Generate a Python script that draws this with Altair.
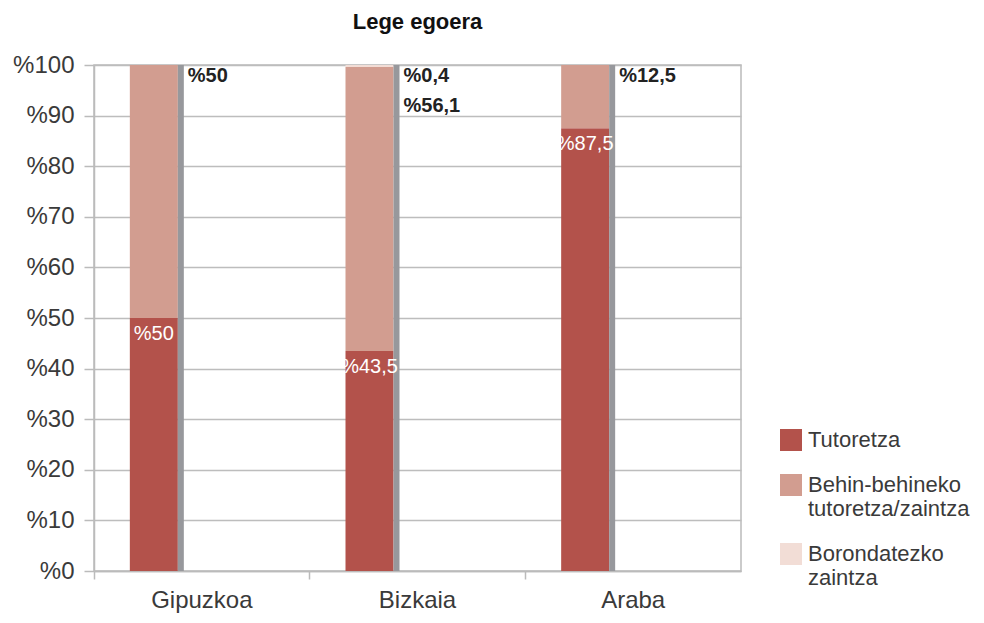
import altair as alt
import pandas as pd

categories = ["Gipuzkoa", "Bizkaia", "Araba"]
series = ["Tutoretza", "Behin-behineko tutoretza/zaintza", "Borondatezko zaintza"]
tutoretza = [50, 43.5, 87.5]
behin = [50, 56.1, 12.5]
borondatezko = [0, 0.4, 0]
colors = ["#B3524B", "#D29D90", "#F2DDD6"]

# outside labels: (category, text, row)
out_labels = [("Gipuzkoa", "%50", 0), ("Bizkaia", "%0,4", 0), ("Bizkaia", "%56,1", 1), ("Araba", "%12,5", 0)]


def fmt(v):
    return "%" + f"{v:g}".replace(".", ",")


rows = []
for i, c in enumerate(categories):
    for j, (s, vals) in enumerate(zip(series, [tutoretza, behin, borondatezko])):
        rows.append({"cat": c, "series": s, "value": vals[i], "order": j})
df = pd.DataFrame(rows)

tot = pd.DataFrame({"cat": categories,
                    "total": [a + b + d for a, b, d in zip(tutoretza, behin, borondatezko)]})
inner = pd.DataFrame({"cat": categories, "v": tutoretza, "txt": [fmt(v) for v in tutoretza]})
outer = pd.DataFrame([{"cat": c, "txt": t, "row": r, "top": 100} for c, t, r in out_labels])

FONT = "Liberation Sans"
TXT = "#3a3a3a"

xenc = alt.X("cat:N", sort=categories, title=None,
             scale=alt.Scale(paddingInner=0, paddingOuter=0),
             axis=alt.Axis(labelAngle=0, labelFontSize=24, labelColor=TXT,
                           labelFont=FONT, labelPadding=9, tickSize=8, tickColor="#BBBBBB",
                           domainColor="#BBBBBB", bandPosition=0, domainWidth=1.5, tickWidth=1.5))

yscale = alt.Scale(domain=[0, 100])

bars = alt.Chart(df).mark_bar(width=48, xOffset=-48).encode(
    x=xenc,
    y=alt.Y("value:Q", stack="zero", scale=yscale, title=None,
            axis=alt.Axis(values=list(range(0, 101, 10)), labelExpr="'%' + datum.value",
                          labelFontSize=24, labelColor=TXT, labelFont=FONT,
                          labelPadding=10, tickSize=10, tickColor="#BBBBBB",
                          domainColor="#BBBBBB", gridColor="#BDBDBD", gridWidth=1.5,
                          domainWidth=1.5, tickWidth=1.5)),
    color=alt.Color("series:N", sort=series,
                    scale=alt.Scale(domain=series, range=colors),
                    legend=alt.Legend(title=None, orient="none", legendX=686, legendY=364,
                                      symbolType="square", symbolSize=484,
                                      symbolStrokeWidth=0, labelFontSize=22,
                                      labelFont=FONT, labelColor=TXT,
                                      labelLimit=300, rowPadding=23, labelOffset=6,
                                      labelExpr="datum.label == 'Behin-behineko tutoretza/zaintza' ? ['Behin-behineko', 'tutoretza/zaintza'] : datum.label == 'Borondatezko zaintza' ? ['Borondatezko', 'zaintza'] : datum.label")),
    order=alt.Order("order:Q"),
)

side = alt.Chart(tot).mark_bar(width=6, xOffset=-21, color="#97989C").encode(
    x=alt.X("cat:N", sort=categories),
    y=alt.Y("total:Q", scale=yscale),
)

inner_txt = alt.Chart(inner).mark_text(color="white", fontSize=20, font=FONT,
                                       baseline="middle", dy=16, xOffset=-48).encode(
    x=alt.X("cat:N", sort=categories),
    y=alt.Y("v:Q", scale=yscale),
    text="txt:N",
)

outer0 = alt.Chart(outer).transform_filter("datum.row == 0").mark_text(
    color="#222222", fontSize=20, font=FONT, fontWeight="bold", align="left",
    baseline="middle", dx=-14, dy=11).encode(
    x=alt.X("cat:N", sort=categories),
    y=alt.Y("top:Q", scale=yscale),
    text="txt:N",
)
outer1 = alt.Chart(outer).transform_filter("datum.row == 1").mark_text(
    color="#222222", fontSize=20, font=FONT, fontWeight="bold", align="left",
    baseline="middle", dx=-14, dy=41).encode(
    x=alt.X("cat:N", sort=categories),
    y=alt.Y("top:Q", scale=yscale),
    text="txt:N",
)

chart = alt.layer(bars, side, inner_txt, outer0, outer1).properties(
    width=647, height=506,
    title=alt.TitleParams("Lege egoera", fontSize=22, font=FONT, fontWeight="bold",
                          color="#111111", anchor="middle", offset=19),
    autosize=alt.AutoSizeParams(type="none"),
    padding={"left": 86, "top": 57, "right": 235, "bottom": 44},
).configure_view(stroke="#BBBBBB", strokeWidth=1.5)

chart.save("out.html", embed_options={"renderer": "svg", "actions": False})
